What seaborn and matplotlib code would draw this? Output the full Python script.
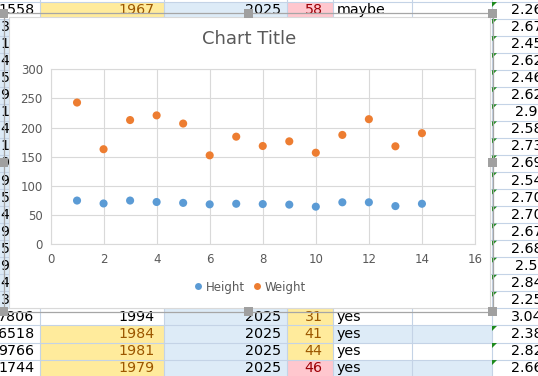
import matplotlib
matplotlib.use('Agg')
import matplotlib.pyplot as plt
import pandas as pd
import seaborn as sns
from matplotlib.lines import Line2D
from matplotlib.patches import Rectangle, Polygon

# chart data
point_idx = list(range(1, 15))
height = [75, 70, 75, 72.5, 71, 68.5, 69.5, 69, 68, 64.5, 72, 72, 65.5, 69.5]
weight = [243, 163, 213, 221, 207, 152.5, 184.5, 168.5, 176.5, 157, 187.5,
          214.5, 168, 190.5]
series_colors = {'Height': '#5b9bd5', 'Weight': '#ed7d31'}
x_ticks = [0, 2, 4, 6, 8, 10, 12, 14, 16]
y_ticks = [0, 50, 100, 150, 200, 250, 300]

# spreadsheet cells visible around the chart
top_row = ['1558', '1967', '2025', '58', 'maybe']
bottom_rows = [['7806', '1994', '2025', '31', 'yes'],
               ['6518', '1984', '2025', '41', 'yes'],
               ['9766', '1981', '2025', '44', 'yes'],
               ['1744', '1979', '2025', '46', 'yes']]
left_chars = ['3', '1', '4', '5', '9', '1', '4', '1', '9', '9', '5', '4',
              '9', '5', '9', '4', '3']
right_col = ['2.26', '2.67', '2.45', '2.62', '2.46', '2.62', '2.9', '2.58',
             '2.73', '2.69', '2.54', '2.70', '2.70', '2.67', '2.68', '2.5',
             '2.84', '2.25', '3.04', '2.38', '2.82', '2.66']

# colours
blue_fill, yellow_fill, pink_fill = '#ddebf7', '#ffeb9c', '#ffc7ce'
gold_txt, red_txt = '#9c5700', '#9c0006'
grid_col = '#c4d3e6'
chart_grey = '#595959'

W, H = 538, 376
fig = plt.figure(figsize=(W / 100, H / 100), dpi=100)

# ---- spreadsheet background, drawn in pixel coordinates ----
bg = fig.add_axes([0, 0, 1, 1])
bg.set_xlim(0, W)
bg.set_ylim(H, 0)
bg.axis('off')

col_edges = [-10, 39.5, 164, 287, 333, 412, 491.5, 560]
pitch = 17.05
row_top = lambda i: 1.5 + pitch * i
ss_font = 10.3


def cell(i, c, color):
    bg.add_patch(Rectangle((col_edges[c], row_top(i)),
                           col_edges[c + 1] - col_edges[c], pitch,
                           facecolor=color, edgecolor='none', zorder=1))


def row_text(i, vals, b_col, d_col):
    yc = row_top(i) + pitch / 2
    bg.text(34.3, yc, vals[0], ha='right', va='center', fontsize=ss_font,
            color='black', zorder=3)
    bg.text(154.4, yc, vals[1], ha='right', va='center', fontsize=ss_font,
            color=b_col, zorder=3)
    bg.text(281.4, yc, vals[2], ha='right', va='center', fontsize=ss_font,
            color='black', zorder=3)
    bg.text(322.6, yc, vals[3], ha='right', va='center', fontsize=ss_font,
            color=d_col, zorder=3)
    bg.text(336.3, yc, vals[4], ha='left', va='center', fontsize=ss_font,
            color='black', zorder=3)


# row fills: (col B, col D, cols E/F banded)
fills = {0: (yellow_fill, pink_fill, None),
         18: (None, yellow_fill, None),
         19: (yellow_fill, yellow_fill, blue_fill),
         20: (yellow_fill, yellow_fill, None),
         21: (yellow_fill, pink_fill, blue_fill)}
for i, (fb, fd, fe) in fills.items():
    if fb:
        cell(i, 1, fb)
    cell(i, 2, blue_fill)
    if fd:
        cell(i, 3, fd)
    if fe:
        cell(i, 4, fe)
        cell(i, 5, fe)

for i in range(1, 18):
    cell(i, 0, blue_fill)

row_text(0, top_row, gold_txt, red_txt)
for k, vals in enumerate(bottom_rows):
    i = 18 + k
    b_col = 'black' if fills[i][0] is None else gold_txt
    d_col = red_txt if fills[i][1] == pink_fill else gold_txt
    row_text(i, vals, b_col, d_col)

for i, ch in enumerate(left_chars):
    bg.text(0.5, row_top(i + 1) + pitch / 2, ch, ha='left', va='center',
            fontsize=ss_font, color='black', zorder=3)

for i, v in enumerate(right_col):
    top = row_top(i)
    bg.text(526.5, top + pitch / 2, v, ha='center', va='center',
            fontsize=ss_font, color='black', zorder=3)
    bg.add_patch(Polygon([[492, top + 0.5], [497, top + 0.5], [492, top + 5.5]],
                         closed=True, facecolor='#1e8a1e', edgecolor='none',
                         zorder=4))

# grid lines
for i in range(23):
    bg.plot([0, W], [row_top(i), row_top(i)], color=grid_col, lw=0.8, zorder=2)
for x in col_edges[1:-1]:
    bg.plot([x, x], [0, H], color=grid_col, lw=0.8, zorder=2)

# ---- chart box with selection frame ----
bg.add_patch(Rectangle((9, 17), 481, 291, facecolor='white',
                       edgecolor='#d9d9d9', lw=0.8, zorder=5))
bg.add_patch(Rectangle((3.5, 13), 489, 298.5, facecolor='none',
                       edgecolor='#a6a6a6', lw=0.9, zorder=6))
for hx in [3.5, 248, 492.5]:
    for hy in [13, 162, 311.5]:
        if hx == 248 and hy == 162:
            continue
        bg.add_patch(Rectangle((hx - 4.5, hy - 4.5), 9, 9,
                               facecolor='#a0a0a0', edgecolor='none', zorder=7))

fig.text(249 / W, 1 - 39.5 / H, 'Chart Title', ha='center', va='center',
         fontsize=13, color=chart_grey)

# ---- scatter plot ----
ax = fig.add_axes([50.5 / W, 1 - 244.3 / H, (475 - 50.5) / W,
                   (244.3 - 69.3) / H])
df = pd.DataFrame({'x': point_idx * 2,
                   'value': height + weight,
                   'series': ['Height'] * len(height) + ['Weight'] * len(weight)})
sns.scatterplot(data=df, x='x', y='value', hue='series',
                palette=series_colors, s=34, edgecolor='none', legend=False,
                ax=ax, zorder=3)

ax.set_xlim(0, 16)
ax.set_ylim(0, 300)
ax.set_xticks(x_ticks)
ax.set_yticks(y_ticks)
ax.set_xlabel('')
ax.set_ylabel('')
ax.grid(True, color='#d9d9d9', lw=0.8)
ax.set_axisbelow(True)
for sp in ax.spines.values():
    sp.set_color('#d9d9d9')
    sp.set_linewidth(0.8)
ax.tick_params(length=0, labelsize=8.5, colors=chart_grey)
ax.tick_params(axis='x', pad=6.5)
ax.tick_params(axis='y', pad=5.5)

handles = [Line2D([], [], marker='o', ls='', markersize=5,
                  markerfacecolor=c, markeredgecolor='none')
           for c in series_colors.values()]
ax.legend(handles, list(series_colors), loc='center',
          bbox_to_anchor=(250 / W, 1 - 287 / H), bbox_transform=fig.transFigure,
          ncol=2, frameon=False, fontsize=8.5, labelcolor=chart_grey,
          handlelength=0.6, handletextpad=0.35, columnspacing=0.7)

fig.savefig('out.png', dpi=100)
